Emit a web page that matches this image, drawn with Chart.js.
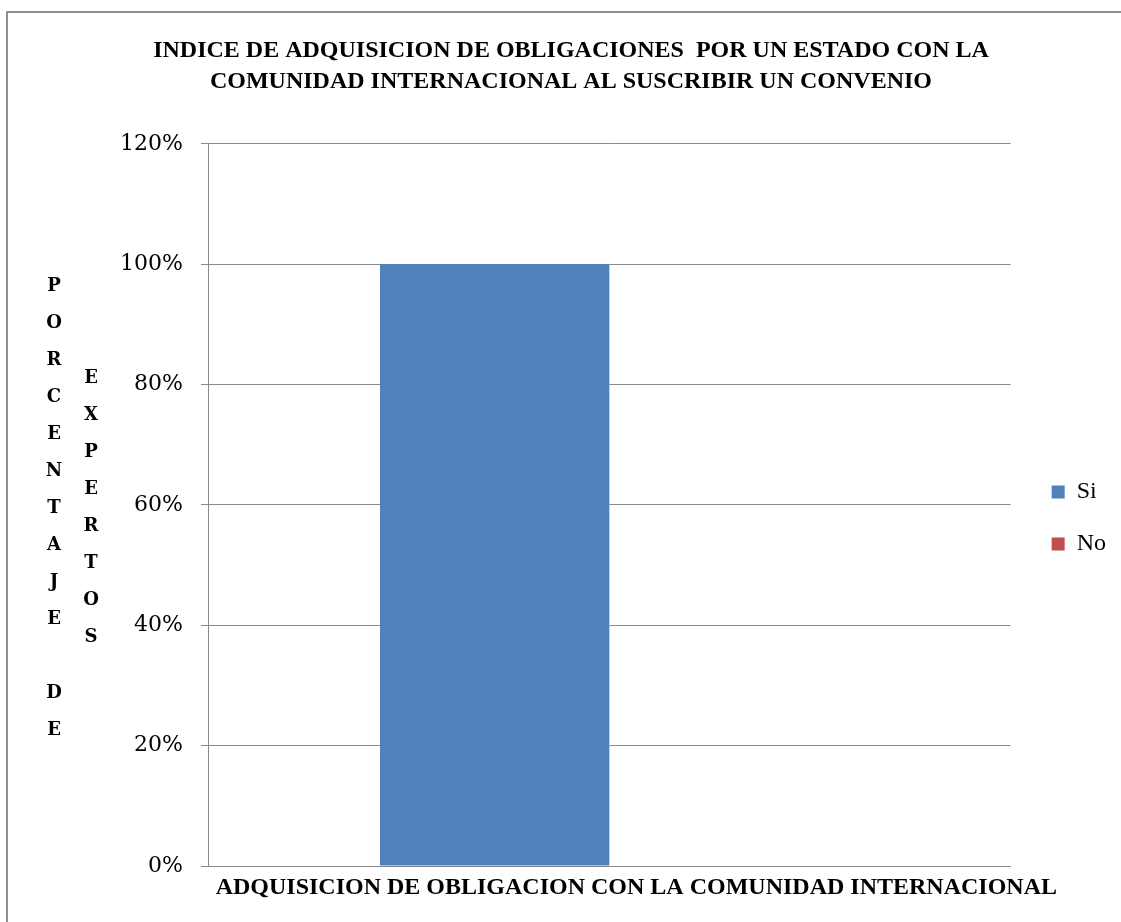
<!DOCTYPE html>
<html>
<head>
<meta charset="utf-8">
<script src="https://cdn.jsdelivr.net/npm/chart.js@4.4.1/dist/chart.umd.min.js"></script>
<style>
  html, body { margin: 0; padding: 0; background: #fff; }
  #wrap { width: 1121px; height: 922px; }
</style>
</head>
<body>
<div id="wrap"><canvas id="chart"></canvas></div>
<script>
// data
const categories = ["ADQUISICION DE OBLIGACION CON LA COMUNIDAD INTERNACIONAL"];
const seriesNames = ["Si", "No"];
const siValues = [100];
const noValues = [0];
const yTicks = [0, 20, 40, 60, 80, 100, 120];
const titleLines = [
  "INDICE DE ADQUISICION DE OBLIGACIONES  POR UN ESTADO CON LA",
  "COMUNIDAD INTERNACIONAL AL SUSCRIBIR UN CONVENIO"
];
const yTitleColumns = ["PORCENTAJE DE", "EXPERTOS"];
const xTitle = "ADQUISICION DE OBLIGACION CON LA COMUNIDAD INTERNACIONAL";

const gridGray = "#898989";

// frame, vertical stacked y title and x title
const extras = {
  id: "extras",
  afterLayout(chart) {
    // nudge the legend block like the original sits
    const lg = chart.legend;
    lg.top += 13; lg.bottom += 13;
    lg.left += 13; lg.right += 13;
  },
  beforeDraw(chart) {
    const ctx = chart.ctx;
    ctx.save();
    ctx.strokeStyle = "#8f8f8f";
    ctx.lineWidth = 2;
    ctx.strokeRect(7, 12, 1300, 1100);
    ctx.restore();
  },
  afterDraw(chart) {
    const { ctx, chartArea } = chart;
    const midY = (chartArea.top + chartArea.bottom) / 2;
    ctx.save();
    ctx.fillStyle = "#000";
    ctx.textAlign = "center";
    ctx.textBaseline = "middle";
    ctx.font = "bold 18px 'DejaVu Serif'";
    const step = 37;
    const colX = [54, 91];
    yTitleColumns.forEach((txt, c) => {
      const chars = txt.split("");
      const y0 = midY + 3 - (chars.length - 1) * step / 2;
      chars.forEach((ch, i) => {
        if (ch !== " ") ctx.fillText(ch, colX[c], y0 + i * step);
      });
    });
    ctx.font = "bold 24px 'Liberation Serif'";
    ctx.fillText(xTitle, (chartArea.left + chartArea.right) / 2 + 27, chartArea.bottom + 22);
    ctx.restore();
  }
};

new Chart(document.getElementById("chart"), {
  type: "bar",
  data: {
    labels: categories,
    datasets: [
      { label: seriesNames[0], data: siValues, backgroundColor: "#4F81BD" },
      { label: seriesNames[1], data: noValues, backgroundColor: "#C0504D" }
    ]
  },
  options: {
    responsive: true,
    maintainAspectRatio: false,
    animation: false,
    layout: { padding: { left: 39, right: 18, top: 0, bottom: 0 } },
    datasets: { bar: { categoryPercentage: 2 / 3.5, barPercentage: 1, borderWidth: 0 } },
    scales: {
      x: {
        ticks: { display: false },
        grid: { display: false, drawTicks: false },
        border: { display: true, color: gridGray, width: 1 },
        afterFit(scale) { scale.height = 56; }
      },
      y: {
        min: 0,
        max: 120,
        afterBuildTicks(scale) { scale.ticks = yTicks.map(v => ({ value: v })); },
        ticks: {
          callback: v => v + "%",
          color: "#000",
          padding: 18,
          font: { family: "'DejaVu Serif'", size: 22 }
        },
        grid: { color: gridGray, lineWidth: 1, tickLength: 7 },
        border: { display: true, color: gridGray, width: 1 },
        afterFit(scale) { scale.width = 208 - 39; }
      }
    },
    plugins: {
      title: {
        display: true,
        text: titleLines,
        color: "#000",
        font: { family: "'Liberation Serif'", size: 24, weight: "bold", lineHeight: 1.27 },
        padding: { top: 36, bottom: 47 }
      },
      legend: {
        position: "right",
        fullSize: false,
        labels: {
          color: "#000",
          boxWidth: 13,
          boxHeight: 13,
          padding: 28,
          font: { family: "'Liberation Serif'", size: 24 }
        }
      },
      tooltip: { enabled: false }
    }
  },
  plugins: [extras]
});
</script>
</body>
</html>
